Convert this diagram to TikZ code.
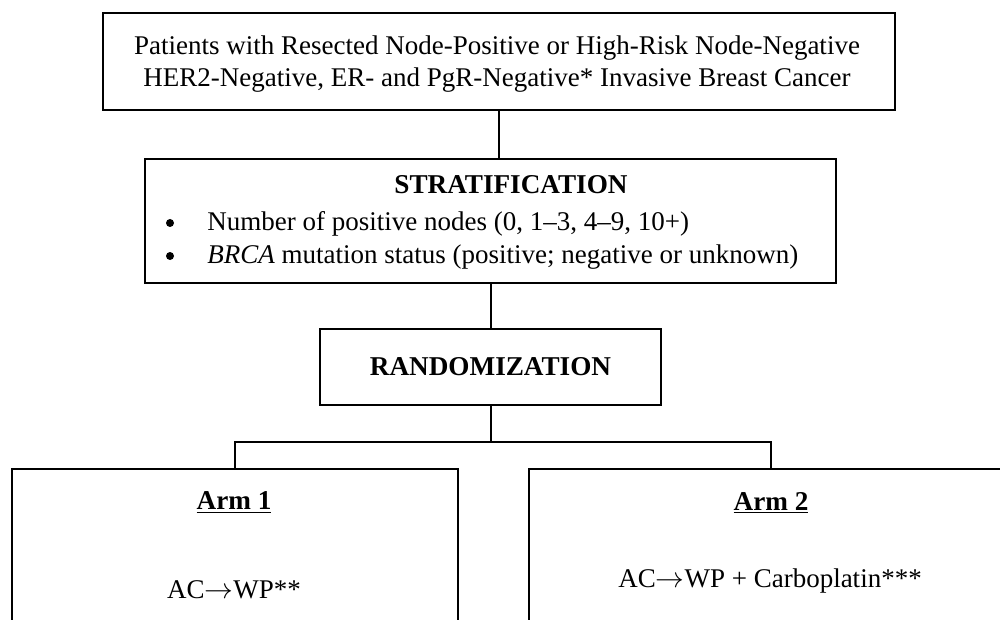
\documentclass[tikz,border=0pt]{standalone}
\usepackage{fontspec}
\setmainfont{Liberation Serif}
\begin{document}
\begin{tikzpicture}[x=0.5pt,y=-0.5pt,
  box/.style={draw, line width=1pt, inner sep=0pt, anchor=north west},
  conn/.style={line width=1pt},
  txt/.style={inner sep=0pt, font=\fontsize{13.5}{16}\selectfont},
  btxt/.style={inner sep=0pt, font=\fontsize{13.6}{16}\selectfont\bfseries},
  bul/.style={circle, fill, inner sep=0pt, minimum size=4pt}]
\useasboundingbox (0,0) rectangle (1000,620);
\clip (0,0) rectangle (1000,620);
% boxes
\node[box, minimum width=396pt, minimum height=48.5pt] (top) at (102,12) {};
\node[box, minimum width=345.5pt, minimum height=62pt] (strat) at (144,158) {};
\node[box, minimum width=170.5pt, minimum height=38pt] (rand) at (319,328) {};
\node[box, minimum width=223pt, minimum height=116pt] (arm1) at (11,468) {};
\node[box, minimum width=261pt, minimum height=116pt] (arm2) at (528,468) {};
% texts
\node[txt, align=center] (toptxt) at (497,64) {Patients with Resected Node-Positive or High-Risk Node-Negative\\HER2-Negative, ER- and PgR-Negative* Invasive Breast Cancer};
\node[btxt] (strattitle) at (511,185) {STRATIFICATION};
\node[bul] (b1) at (170,223) {};
\node[bul] (b2) at (170,256) {};
\node[txt, anchor=west] (l1) at (207,224) {Number of positive nodes (0, 1–3, 4–9, 10+)};
\node[txt, anchor=west] (l2) at (207,257) {\textit{BRCA} mutation status (positive; negative or unknown)};
\node[btxt] (randtxt) at (rand.center) {RANDOMIZATION};
\node[btxt] (arm1title) at (234,503) {\underline{Arm 1}};
\node[txt] (arm1txt) at (234,590) {AC$\rightarrow$WP**};
\node[btxt] (arm2title) at (771,503) {\underline{Arm 2}};
\node[txt] (arm2txt) at (770,581) {AC$\rightarrow$WP + Carboplatin***};
% connectors
\path (rand.south) ++(0,36) coordinate (split);
\coordinate (a1top) at (235,468);
\coordinate (a2top) at (771,468);
\draw[conn] (top.south) -- (top.south |- strat.north);
\draw[conn] (strat.south) -- (rand.north);
\draw[conn] (rand.south) -- (split);
\draw[conn] (a1top) |- (split) -| (a2top);
\end{tikzpicture}
\end{document}
